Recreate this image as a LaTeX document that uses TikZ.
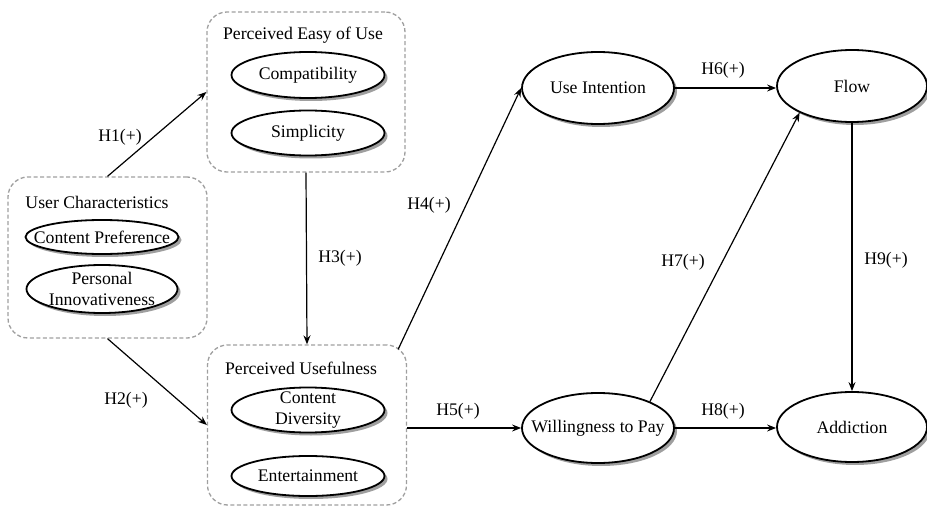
\documentclass[tikz,border=0pt]{standalone}
\usepackage{fontspec}
\setmainfont{Liberation Serif}
\usetikzlibrary{shapes.geometric,shadows,arrows.meta,calc}
\begin{document}
\begin{tikzpicture}[x=1pt,y=-1pt,
  every node/.style={font=\fontsize{17.7}{21.5}\selectfont},
  grp/.style={draw=gray!75, dash pattern=on 4pt off 2.5pt, line width=1.3pt, rounded corners=20pt, inner sep=0pt},
  ell/.style={ellipse, draw=black, line width=1.8pt, fill=white, inner sep=0pt,
    drop shadow={shadow xshift=3pt,shadow yshift=-3pt,fill=gray!75,opacity=1}},
  etxt/.style={align=center, inner sep=0pt},
  arr/.style={-{Stealth[length=9pt,width=7pt,inset=3pt]}, line width=1.2pt},
  lbl/.style={inner sep=1pt}]
\useasboundingbox (0,0) rectangle (927,508);

% group boxes
\node[grp, minimum width=199pt, minimum height=161pt] (UC) at (107.5,257.5) {};
\node[grp, minimum width=198pt, minimum height=160pt] (PEU) at (306,92) {};
\node[grp, minimum width=199pt, minimum height=160pt] (PU) at (307,425) {};

% group titles
\node (UCt) at (97,202) {User Characteristics};
\node (PEUt) at (303,35) {Perceived Easy of Use};
\node (PUt) at (301,368) {Perceived Usefulness};

% inner ellipses
\node[ell, minimum width=153pt, minimum height=34pt, label={[etxt]center:Content Preference}] (CP) at (102,237) {};
\node[ell, minimum width=151pt, minimum height=48pt, label={[etxt]center:Personal\\Innovativeness}] (PI) at (102,289) {};
\node[ell, minimum width=153pt, minimum height=46pt, label={[etxt]center:Compatibility}] (CO) at (308,75) {};
\node[ell, minimum width=153pt, minimum height=45pt, label={[etxt]center:Simplicity}] (SI) at (308,133) {};
\node[ell, minimum width=153pt, minimum height=45pt, label={[etxt]center:Content\\Diversity}] (CD) at (308,410) {};
\node[ell, minimum width=153pt, minimum height=40pt, label={[etxt]center:Entertainment}] (EN) at (308,476) {};

% outcome ellipses
\node[ell, minimum width=152pt, minimum height=72pt, label={[etxt]center:Use Intention}] (UI) at (598,88) {};
\node[ell, minimum width=150pt, minimum height=72pt, label={[etxt]center:Flow}] (FL) at (852,86) {};
\node[ell, minimum width=152pt, minimum height=70pt, label={[etxt]center:Willingness to Pay}] (WP) at (598,428) {};
\node[ell, minimum width=150pt, minimum height=70pt, label={[etxt]center:Addiction}] (AD) at (852,427) {};

% connectors
\draw[arr] (UC.north) -- (PEU.west);
\draw[arr] (UC.south) -- (PU.west);
\draw[arr] (PEU.south) -- (PU.north);
\draw[arr] ($(PU.north east)+(-9,5)$) -- (UI.west);
\draw[arr] (WP.west -| PU.east) -- (WP.west);
\draw[arr] (UI.east) -- (FL.west |- UI.east);
\draw[arr] (WP.27) -- (FL.207);
\draw[arr] (WP.east) -- (AD.west |- WP.east);
\draw[arr] (FL.south) -- (AD.north);

% labels
\node[lbl] (L1) at (120,137) {H1(+)};
\node[lbl] (L2) at (126,400) {H2(+)};
\node[lbl] (L3) at (340,258) {H3(+)};
\node[lbl] (L4) at (429,205) {H4(+)};
\node[lbl] (L5) at (458,411) {H5(+)};
\node[lbl] (L6) at (723,70) {H6(+)};
\node[lbl] (L7) at (683,262) {H7(+)};
\node[lbl] (L8) at (723,411) {H8(+)};
\node[lbl] (L9) at (886,260) {H9(+)};
\end{tikzpicture}
\end{document}
